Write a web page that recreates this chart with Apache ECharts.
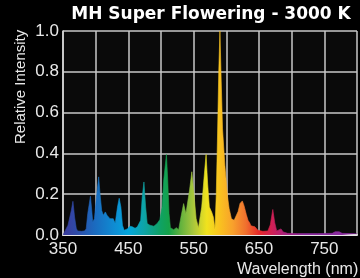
<!DOCTYPE html>
<html>
<head>
<meta charset="utf-8">
<script src="https://cdn.jsdelivr.net/npm/echarts@6/dist/echarts.min.js"></script>
<style>
  html, body { margin: 0; padding: 0; background: #000; }
  #chart { width: 360px; height: 278px; }
</style>
</head>
<body>
<div id="chart"></div>
<script>
// wavelength (nm) and relative intensity
const wavelengths = [
  350, 351, 357.6, 362.7, 365.2, 367.7, 370.3, 372.3, 378.4, 382.9,
  385.5, 387.9, 392, 394, 395.5, 398.1, 400.7, 404.6, 406.7, 409.2,
  411.7, 414.8, 417.3, 419.8, 421.9, 424.3, 426.9, 429.9, 433.4, 436,
  438.6, 441, 443.6, 448.6, 452.2, 456.2, 460.3, 463.8, 466.3, 468.9,
  471.3, 473.9, 476.5, 478.9, 483, 489.1, 494.1, 498.2, 501.7, 504.2,
  508.3, 510.3, 512.3, 514.4, 519.4, 523.5, 527, 530.5, 534.6, 538.1,
  540.6, 543.7, 547.2, 550.8, 553.8, 557.3, 559.9, 562.3, 566, 569,
  571.4, 574, 577.5, 580.1, 582.6, 584.6, 586.6, 588.4, 590.2, 592.2,
  594.2, 597.8, 601.8, 604.3, 607.8, 611.9, 614.9, 618, 621, 624.5,
  627, 630.6, 633.2, 635.7, 637.7, 643.8, 648.3, 655.9, 663.5, 667.3,
  671.1, 674.1, 677.1, 680.1, 683.7, 687, 693.8, 709, 739.3, 762,
  766.6, 769.6, 772.7, 777.2, 800
];
const intensity = [
  0.0, 0.005, 0.048, 0.12, 0.165, 0.088, 0.033, 0.02, 0.018, 0.02,
  0.03, 0.105, 0.19, 0.12, 0.064, 0.08, 0.17, 0.285, 0.2, 0.12,
  0.097, 0.113, 0.097, 0.105, 0.08, 0.072, 0.08, 0.057, 0.137, 0.18,
  0.137, 0.048, 0.023, 0.03, 0.043, 0.04, 0.033, 0.04, 0.035, 0.072,
  0.187, 0.26, 0.137, 0.056, 0.048, 0.043, 0.056, 0.075, 0.137, 0.27,
  0.395, 0.27, 0.105, 0.036, 0.026, 0.036, 0.026, 0.088, 0.154, 0.105,
  0.113, 0.22, 0.31, 0.187, 0.08, 0.036, 0.043, 0.137, 0.285, 0.395,
  0.25, 0.137, 0.113, 0.088, 0.03, 0.2, 0.5, 0.8, 1.0, 0.75,
  0.52, 0.34, 0.19, 0.13, 0.08, 0.072, 0.08, 0.115, 0.155, 0.167,
  0.145, 0.1, 0.072, 0.06, 0.045, 0.04, 0.023, 0.018, 0.02, 0.05,
  0.125, 0.06, 0.02, 0.02, 0.03, 0.015, 0.008, 0.007, 0.007, 0.008,
  0.016, 0.018, 0.016, 0.008, 0.006
];
const yTicks = [0, 0.2, 0.4, 0.6, 0.8, 1.0];
const xLabelValues = [350, 450, 550, 650, 750];

// spectrum colours, left to right across 350-800 nm
const spectrum = [
  [0.0, '#3b3a9c'], [0.044, '#2f4aa8'], [0.111, '#1a6cc0'], [0.178, '#0e8ed4'],
  [0.222, '#02a6dc'], [0.278, '#0ea3a4'], [0.333, '#0fa263'], [0.36, '#14a24a'],
  [0.4, '#62b23e'], [0.444, '#aac73c'], [0.489, '#f0e21e'], [0.533, '#f9c21f'],
  [0.578, '#f8a02c'], [0.622, '#f0702e'], [0.667, '#e6282a'], [0.711, '#cf1f55'],
  [0.756, '#a8207f'], [0.822, '#8a2a9e'], [1.0, '#8a2a9e']
];

const chart = echarts.init(document.getElementById('chart'));

const grad = () => new echarts.graphic.LinearGradient(0, 0, 1, 0,
  spectrum.map(s => ({ offset: s[0], color: s[1] })));

chart.setOption({
  backgroundColor: '#000',
  animation: false,
  grid: {
    left: 63, right: 0, top: 31, bottom: 43,
    show: true, backgroundColor: '#0a0a0a', borderWidth: 0
  },
  xAxis: {
    type: 'value', min: 350, max: 800, interval: 50,
    axisLine: { show: true, lineStyle: { color: '#e6e6e6', width: 2 } },
    axisTick: { show: false },
    splitLine: { show: true, lineStyle: { color: '#c8c8c8', width: 1.5 } },
    axisLabel: {
      color: '#e8e8e8', fontSize: 17, fontFamily: 'Liberation Sans, Arial', margin: 6,
      formatter: v => xLabelValues.includes(v) ? String(v) : ''
    }
  },
  yAxis: {
    type: 'value', min: 0, max: 1, interval: 0.2,
    axisLine: { show: true, lineStyle: { color: '#d8d8d8', width: 1.5 } },
    axisTick: { show: false },
    splitLine: { show: true, lineStyle: { color: '#c8c8c8', width: 1.5 } },
    axisLabel: {
      color: '#e8e8e8', fontSize: 17, fontFamily: 'Liberation Sans, Arial', margin: 4,
      formatter: v => yTicks.includes(Math.round(v * 10) / 10) ? v.toFixed(1) : ''
    }
  },
  graphic: [
    {
      type: 'text', x: 211, y: 6,
      style: {
        text: 'MH Super Flowering - 3000 K', fill: '#fff',
        font: 'bold 17px "DejaVu Sans"', textAlign: 'center'
      }
    },
    {
      type: 'text', x: 13, y: 144, rotation: Math.PI / 2,
      style: {
        text: 'Relative Intensity', fill: '#e8e8e8',
        font: '15px "Liberation Sans", Arial', textVerticalAlign: 'top'
      }
    },
    {
      type: 'text', x: 237, y: 262,
      style: {
        text: 'Wavelength (nm)', fill: '#e8e8e8',
        font: '16px "Liberation Sans", Arial'
      }
    }
  ],
  series: [{
    type: 'line',
    data: wavelengths.map((w, i) => [w, intensity[i]]),
    showSymbol: false,
    lineStyle: { width: 0.6, color: grad() },
    areaStyle: { color: grad(), opacity: 1 }
  }]
});
</script>
</body>
</html>
